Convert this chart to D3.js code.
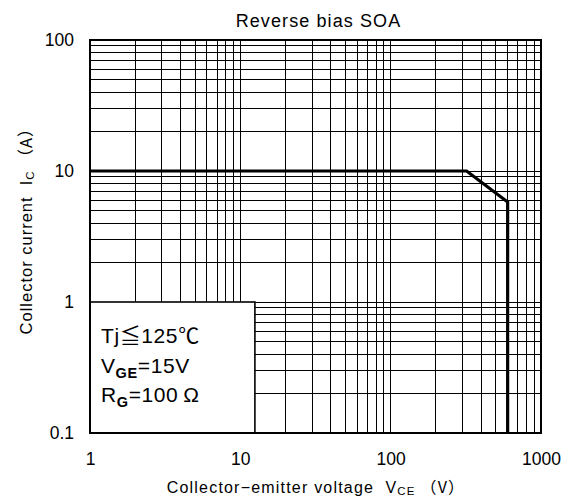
<!DOCTYPE html>
<html>
<head>
<meta charset="utf-8">
<script src="https://cdn.jsdelivr.net/npm/d3@7"></script>
<style>
  body { margin: 0; background: #fff; }
  text { font-family: "Liberation Sans", Arial, "Noto Sans CJK JP", sans-serif; fill: #000; }
  .cjk { font-family: "Noto Sans CJK JP", sans-serif; }
</style>
</head>
<body>
<svg width="567" height="502"></svg>
<script>
// RBSOA boundary: collector-emitter voltage (V) vs collector current (A)
const voltage = [1, 320, 600, 600];
const current = [10, 10, 5.8, 0.1];

// labelled decades on each axis
const xTickLabels = [1, 10, 100, 1000];
const yTickLabels = [0.1, 1, 10, 100];

// conditions box: [main text, subscript, rest]
const conditions = [
  ['Tj≦125℃', '', ''],
  ['V', 'GE', '=15V'],
  ['R', 'G', '=100\u2009Ω'],
];

const margin = { top: 40, right: 26, bottom: 69, left: 90 };
const width = 567 - margin.left - margin.right;
const height = 502 - margin.top - margin.bottom;

const svg = d3.select('svg');
const chart = svg.append('g').attr('transform', `translate(${margin.left}, ${margin.top})`);

const xScale = d3.scaleLog().domain([1, 1000]).range([0, width]);
const yScale = d3.scaleLog().domain([0.1, 100]).range([height, 0]);

// grid lines, 1..9 in every decade
chart.append('g')
  .selectAll('line')
  .data(xScale.ticks())
  .join('line')
  .attr('x1', d => xScale(d)).attr('x2', d => xScale(d))
  .attr('y1', 0).attr('y2', height)
  .attr('stroke', '#000').attr('stroke-width', 1)
  .attr('shape-rendering', 'crispEdges');

chart.append('g')
  .selectAll('line')
  .data(yScale.ticks())
  .join('line')
  .attr('y1', d => yScale(d)).attr('y2', d => yScale(d))
  .attr('x1', 0).attr('x2', width)
  .attr('stroke', '#000').attr('stroke-width', 1)
  .attr('shape-rendering', 'crispEdges');

// tick labels
chart.append('g')
  .attr('transform', `translate(0, ${height})`)
  .call(d3.axisBottom(xScale).tickValues(xTickLabels).tickFormat(d => String(d)).tickSize(0).tickPadding(20))
  .call(g => g.select('.domain').remove())
  .call(g => g.selectAll('text').attr('font-size', 17.5).attr('font-family', null));

chart.append('g')
  .call(d3.axisLeft(yScale).tickValues(yTickLabels).tickFormat(d => String(d)).tickSize(0).tickPadding(16))
  .call(g => g.select('.domain').remove())
  .call(g => g.selectAll('text').attr('font-size', 17.5).attr('font-family', null));

// conditions box
const box = chart.append('g');
box.append('rect')
  .attr('x', xScale(1)).attr('y', yScale(1))
  .attr('width', xScale(12.5) - xScale(1))
  .attr('height', yScale(0.1) - yScale(1))
  .attr('fill', '#fff').attr('stroke', '#000').attr('stroke-width', 1.6);

conditions.forEach((c, i) => {
  const t = box.append('text')
    .attr('x', 11).attr('y', yScale(1) + 41 + i * 29.5)
    .attr('font-size', 21).attr('letter-spacing', 0.6);
  t.append('tspan').text(c[0]);
  if (c[1]) {
    t.append('tspan').attr('dy', 5).attr('font-size', 14.5).attr('font-weight', 'bold').text(c[1]);
    t.append('tspan').attr('dy', -5).text(c[2]);
  }
});

// boundary line
const line = d3.line().x(d => xScale(d)).y((d, i) => yScale(current[i]));
chart.append('path')
  .datum(voltage)
  .attr('d', line)
  .attr('fill', 'none').attr('stroke', '#000').attr('stroke-width', 3.2)
  .attr('stroke-linejoin', 'miter');

// frame
chart.append('rect')
  .attr('width', width).attr('height', height)
  .attr('fill', 'none').attr('stroke', '#000').attr('stroke-width', 2);

// title
svg.append('text')
  .attr('x', margin.left + width / 2 + 3).attr('y', 27)
  .attr('text-anchor', 'middle').attr('font-size', 18).attr('letter-spacing', 1.1)
  .text('Reverse bias SOA');

// x label
const xl = svg.append('text')
  .attr('x', 316).attr('y', 493)
  .attr('text-anchor', 'middle').attr('font-size', 16).attr('letter-spacing', 1.2)
  .attr('xml:space', 'preserve');
xl.append('tspan').text('Collector−emitter voltage  V');
xl.append('tspan').attr('font-size', 11.5).attr('dy', 2).text('CE');
xl.append('tspan').attr('dy', -2).attr('class', 'cjk').text(' （V）');

// y label
const yl = svg.append('text')
  .attr('transform', 'translate(32, 227) rotate(-90)')
  .attr('text-anchor', 'middle').attr('font-size', 16.5).attr('letter-spacing', 1)
  .attr('xml:space', 'preserve');
yl.append('tspan').text('Collector current  I');
yl.append('tspan').attr('font-size', 11.5).attr('dy', 2).text('C');
yl.append('tspan').attr('dy', -2).attr('class', 'cjk').text(' （A）');
</script>
</body>
</html>
